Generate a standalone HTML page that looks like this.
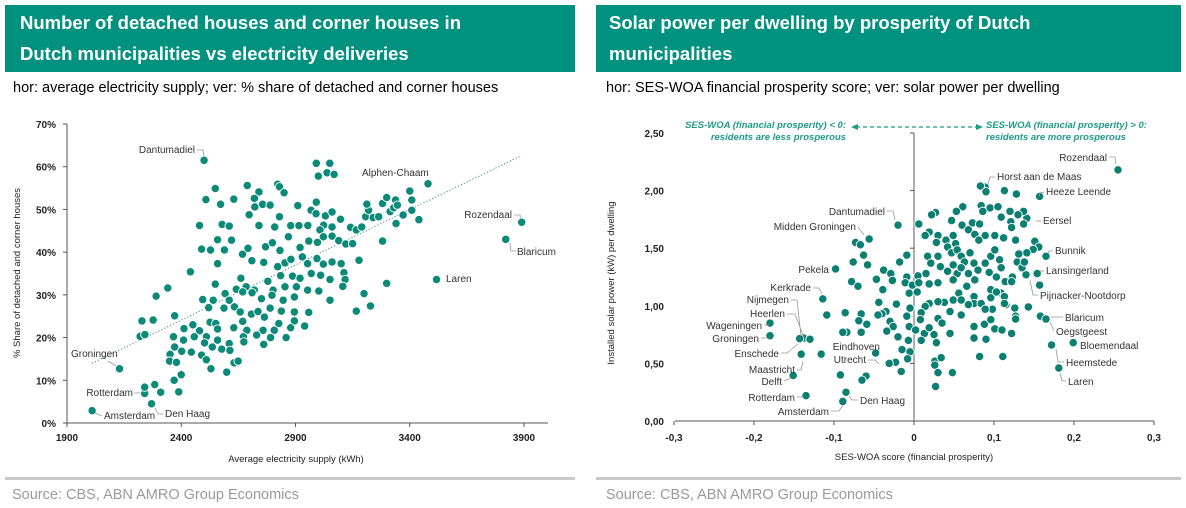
<!DOCTYPE html>
<html><head><meta charset="utf-8"><style>
html,body{margin:0;padding:0;background:#fff;}
svg{display:block;font-family:"Liberation Sans",sans-serif;}
</style></head><body>
<svg id="root" width="1186" height="508" viewBox="0 0 1186 508">
<rect x="5" y="5" width="570" height="67" fill="#00917f"/>
<text x="20" y="29" fill="#fff" font-size="18.5" font-weight="bold">Number of detached houses and corner houses in</text>
<text x="20" y="60" fill="#fff" font-size="18.5" font-weight="bold">Dutch municipalities vs electricity deliveries</text>
<text x="13" y="92" fill="#000" font-size="14.5">hor: average electricity supply; ver: % share of detached and corner houses</text>
<rect x="596" y="5" width="585" height="67" fill="#00917f"/>
<text x="609" y="29" fill="#fff" font-size="18.5" font-weight="bold">Solar power per dwelling by prosperity of Dutch</text>
<text x="609" y="60" fill="#fff" font-size="18.5" font-weight="bold">municipalities</text>
<text x="606" y="92" fill="#000" font-size="14.5">hor: SES-WOA financial prosperity score; ver: solar power per dwelling</text>
<rect x="5" y="477" width="570" height="3" fill="#c8c8c8"/>
<rect x="596" y="477" width="585" height="3" fill="#c8c8c8"/>
<text x="12" y="499" fill="#9a9a9a" font-size="14.5">Source: CBS, ABN AMRO Group Economics</text>
<text x="606" y="499" fill="#9a9a9a" font-size="14.5">Source: CBS, ABN AMRO Group Economics</text>
<g id="left"></g><g id="right"></g>
</svg>
<script>
// LEFT chart data
const leftXTicks=[1900,2400,2900,3400,3900];
const leftYTicks=[0,10,20,30,40,50,60,70];
const leftX=[2500,3480,3890,3820,3517,2130,2240,2010,2270,2991,3050,3000,3038,3069,2689,2822,2830,2549,2740,2850,2508,2630,2720,2572,2756,2789,2722,2991,2910,2697,2830,2968,2990,3031,3060,3097,2480,2579,2610,2740,2809,2879,2915,2954,3023,3007,3060,3141,3166,3190,3207,3220,3212,3240,3264,3281,3299,3314,3330,3338,3346,3371,3400,3409,3409,3440,3340,3281,2559,2620,2692,2769,2799,2832,2869,2920,2958,2996,3022,3060,3089,3120,3150,3178,2489,2528,2589,2668,2709,2761,2559,2822,2854,2880,2930,2953,2994,3022,3060,3100,3112,2835,2887,2920,2969,3010,3051,3117,3107,3299,2661,2440,2341,2290,2549,2641,2684,2720,2779,2802,2854,2904,2494,2540,2592,2610,2669,2710,2751,2797,2846,2895,2953,3002,3051,3200,2520,2587,2633,2658,2707,2736,2789,2838,2895,2958,3166,3228,2371,2228,2277,2526,2551,2669,2764,2827,2895,2940,2451,2412,2480,2559,2630,2687,2758,2807,2879,2220,2241,2366,2457,2510,2672,2730,2791,2859,2410,2502,2559,2610,2674,2761,2371,2536,2577,2613,2351,2402,2444,2489,2349,2379,2510,2631,2649,2530,2599,2400,2369,2240,2284,2310,2389];
const leftY=[61.5,56,47,43,33.6,12.7,6.9,2.9,4.5,60.8,60.8,57.8,58.6,58.2,55.6,55.9,55.3,54.9,54.1,53.9,52.3,52.4,52.6,51.2,51.2,51,50.6,51.7,50.9,48.75,48.3,49.8,49,48.5,49.4,47.7,46.25,46.5,46.1,46.25,45.9,46.2,46.2,46.25,46.3,45.2,45.9,45.8,45.2,45.9,48.3,49.8,51.25,48.1,48.3,51.4,52.8,49.5,50.4,52.2,51,48.7,54.3,52.2,49.8,47.6,46.7,42.6,42.9,42.8,40.9,41.25,42.2,40.4,43.6,41.1,42.6,42.3,43.6,43.75,42.7,41.9,42,38.1,40.7,40.5,40.5,39.5,38,37.6,37.3,36.6,37.5,38.3,38.9,37.3,38.5,37.2,37.7,37.3,35.2,34.5,34.4,33.9,35,34.6,33.6,33.6,32,32.7,33.9,35.4,31.6,29.7,32.5,31.3,31.9,31.1,33.2,31.1,31.9,31.9,28.9,28.75,30.3,28.75,30.7,30.5,29.1,29.9,28.75,29.5,31.1,30.9,28.75,30.3,27,26.9,27.2,26,25.5,26.1,26.9,26.2,26,25.9,26.2,27.4,25.1,23.9,24.1,23.6,23.3,23.8,24.8,23.3,23.9,22.7,23,22.1,21.6,22,22.3,21.7,21.7,21.7,22.3,20.3,20.7,20.2,20.2,20.2,20.2,20.6,20,20,19.4,18.75,19.4,18.6,19,18.4,17.8,17.8,17.3,17,16.1,16.8,16.6,15.9,14.5,14.2,14.8,14.1,14.5,12.7,11.9,11.3,10,8.4,9,7.2,7.3];
const leftTrendRange=[2010,3888];
// RIGHT chart data
const rightXTicks=[-0.3,-0.2,-0.1,0,0.1,0.2,0.3];
const rightXTickLabels=["-0,3","-0,2","-0,1","0","0,1","0,2","0,3"];
const rightYTicks=[0,0.5,1,1.5,2,2.5];
const rightYTickLabels=["0,00","0,50","1,00","1,50","2,00","2,50"];
const rightX=[0.255,0.089,0.157,0.141,0.165,0.154,0.14,0.158,0.165,0.199,0.172,0.181,-0.02,-0.056,-0.098,-0.114,-0.138,-0.13,-0.18,-0.18,-0.143,-0.141,-0.151,-0.135,-0.089,-0.085,-0.048,0.083,0.113,0.128,0.09,0.061,0.084,0.095,0.105,0.12,0.137,0.027,0.022,0.053,0.086,0.109,0.13,0.006,0.047,0.06,0.073,0.082,0.121,0.122,0.137,0.019,0.03,0.049,0.068,0.076,0.089,0.101,0.112,0.014,0.028,0.04,0.052,0.081,0.127,0.151,0.156,0.149,0.141,-0.073,-0.067,-0.063,-0.076,-0.058,-0.009,-0.018,-0.038,-0.029,-0.047,-0.027,-0.078,-0.07,-0.039,-0.009,0.005,0.015,-0.011,-0.002,0.006,0.019,0.03,-0.006,0.004,0.017,0.03,0.021,0.033,0.042,0.047,0.054,0.059,0.063,0.07,0.075,0.049,0.042,0.054,0.059,0.068,0.08,0.089,0.096,0.101,0.107,0.109,0.094,0.103,0.114,0.123,0.129,0.131,0.135,0.138,0.122,0.157,0.049,0.076,0.056,0.066,0.096,0.109,0.096,0.103,0.113,0.075,0.049,0.038,0.03,0.019,0.014,-0.005,-0.022,-0.044,-0.035,-0.04,-0.045,-0.066,-0.086,-0.109,0.075,0.084,0.098,0.115,0.126,0.143,0.127,0.127,0.059,0.045,0.03,0.035,0.009,0.008,-0.009,-0.03,-0.026,-0.034,-0.02,-0.006,0.002,0.013,0.019,0.025,0.028,0.009,-0.007,-0.015,-0.005,-0.008,-0.023,-0.031,-0.016,-0.069,-0.059,-0.066,-0.084,-0.089,-0.116,-0.092,-0.06,-0.065,0.026,0.034,0.026,0.03,0.048,0.027,0.045,0.075,0.088,0.101,0.11,0.075,0.09,0.122,0.082,0.111,0.059,0.068,0.089,0.096,0.113];
const rightY=[2.18,2.03,1.95,1.76,1.43,1.28,1.27,0.91,0.885,0.68,0.66,0.46,1.70,1.58,1.32,1.06,0.72,0.71,0.85,0.74,0.715,0.58,0.395,0.22,0.17,0.25,0.59,2.04,2.0,1.97,1.99,1.86,1.87,1.85,1.86,1.82,1.82,1.81,1.79,1.82,1.82,1.77,1.79,1.71,1.74,1.70,1.72,1.71,1.73,1.68,1.71,1.64,1.61,1.61,1.66,1.62,1.61,1.61,1.59,1.61,1.55,1.57,1.54,1.57,1.57,1.56,1.51,1.49,1.46,1.55,1.53,1.44,1.38,1.355,1.44,1.38,1.31,1.28,1.23,1.22,1.21,1.17,1.14,1.25,1.26,1.28,1.2,1.18,1.2,1.19,1.2,1.11,1.12,1.43,1.43,1.37,1.34,1.51,1.46,1.485,1.43,1.38,1.46,1.37,1.355,1.3,1.28,1.33,1.28,1.31,1.37,1.43,1.485,1.4,1.33,1.29,1.25,1.21,1.25,1.38,1.45,1.33,1.38,1.21,1.18,1.225,1.225,1.11,1.17,1.14,1.11,1.07,1.12,1.08,1.08,1.05,1.03,1.035,1.02,0.995,0.98,1.015,1.03,0.95,0.93,0.92,0.93,0.94,0.92,1.02,1.02,0.97,1.01,0.98,0.99,0.91,0.885,0.92,0.95,0.89,0.85,0.94,0.88,0.91,0.865,0.82,0.78,0.73,0.82,0.79,0.76,0.81,0.75,0.68,0.7,0.7,0.62,0.6,0.54,0.51,0.5,0.43,0.87,0.84,0.77,0.77,0.77,0.58,0.4,0.39,0.355,0.52,0.55,0.485,0.42,0.42,0.3,0.76,0.82,0.84,0.8,0.79,0.72,0.71,0.76,0.56,0.56,1.05,1.01,0.97,0.88,1.02];

const NS="http://www.w3.org/2000/svg";
function mk(parent,tag,attrs,txt){const e=document.createElementNS(NS,tag);for(const k in attrs)e.setAttribute(k,attrs[k]);if(txt!==undefined)e.textContent=txt;parent.appendChild(e);return e;}

// LEFT
const L=document.getElementById('left');
const lx=v=>67+(v-1900)/2000*457;
const ly=v=>423-v/70*299;
let e;
e=mk(L,'line',{x1:67,y1:124,x2:67,y2:423,stroke:'#555','stroke-width':1});


e=mk(L,'line',{x1:67,y1:423,x2:548,y2:423,stroke:'#555','stroke-width':1});


leftYTicks.forEach(t=>{
  mk(L,'line',{x1:63,y1:ly(t),x2:67,y2:ly(t),stroke:'#555'});
  e=mk(L,'text',{x:56,y:ly(t)+4,'text-anchor':'end','font-size':10,'font-weight':'bold',fill:'#222'},t+'%');
  
  
});
leftXTicks.forEach(t=>{
  mk(L,'line',{x1:lx(t),y1:423,x2:lx(t),y2:427,stroke:'#555'});
  e=mk(L,'text',{x:lx(t),y:441,'text-anchor':'middle','font-size':10,'font-weight':'bold',fill:'#222'},t);
  
  
});
e=mk(L,'text',{x:296,y:462,'text-anchor':'middle','font-size':9.5,fill:'#222'},'Average electricity supply (kWh)');


e=mk(L,'text',{x:0,y:0,'text-anchor':'middle','font-size':9.5,fill:'#222',transform:'translate(20,273) rotate(-90)'},'% Share of detached and corner houses');


// regression
(function(){let n=leftX.length,sx=0,sy=0,sxx=0,sxy=0;for(let i=0;i<n;i++){sx+=leftX[i];sy+=leftY[i];sxx+=leftX[i]*leftX[i];sxy+=leftX[i]*leftY[i];}
const b=(n*sxy-sx*sy)/(n*sxx-sx*sx),a=(sy-b*sx)/n;
e=mk(L,'line',{x1:lx(leftTrendRange[0]),y1:ly(a+b*leftTrendRange[0]),x2:lx(leftTrendRange[1]),y2:ly(a+b*leftTrendRange[1]),stroke:'#3a8a99','stroke-width':1,'stroke-dasharray':'1.2 2'});

})();
leftX.forEach((v,i)=>{
  e=mk(L,'circle',{cx:lx(v),cy:ly(leftY[i]),r:4.2,fill:'#0b8a7a',stroke:'#fff','stroke-width':0.9});
  
  
});
function lab(g,x,y,anchor,txt,lead,name){
  e=mk(g,'text',{x:x,y:y,'text-anchor':anchor,'font-size':10,fill:'#333'},txt);
  
  
  if(lead){mk(g,'polyline',{points:lead,fill:'none',stroke:'#999','stroke-width':0.8});}
}
lab(L,195,153,'end','Dantumadiel','197,150 203,150 204,156','label-dantumadiel');
lab(L,362,176,'start','Alphen-Chaam',null,'label-alphen-chaam');
lab(L,512,218,'end','Rozendaal','514,215 520,215 521,218','label-rozendaal');
lab(L,517,255,'start','Blaricum','510,243 511,251 516,251','label-blaricum');
lab(L,446,282,'start','Laren',null,'label-laren');
lab(L,71,357,'start','Groningen','108,361 116,366','label-groningen');
lab(L,133,396,'end','Rotterdam','134,393 140,393','label-rotterdam');
lab(L,104,419,'start','Amsterdam','95,413 102,416','label-amsterdam');
lab(L,165,417,'start','Den Haag','155,408 158,414 163,414','label-den-haag');

// RIGHT
const R=document.getElementById('right');
const rx=v=>914+v/0.3*240;
const ry=v=>421-v/2.5*288;
e=mk(R,'line',{x1:675,y1:421,x2:1154,y2:421,stroke:'#555'});


e=mk(R,'line',{x1:914,y1:133,x2:914,y2:421,stroke:'#777','stroke-width':1.2});


rightXTicks.forEach((t,i)=>{
  mk(R,'line',{x1:rx(t),y1:421,x2:rx(t),y2:425,stroke:'#555'});
  e=mk(R,'text',{x:rx(t),y:441,'text-anchor':'middle','font-size':10,'font-weight':'bold',fill:'#222'},rightXTickLabels[i]);
  
  
});
rightYTicks.forEach((t,i)=>{
  mk(R,'line',{x1:910,y1:ry(t),x2:914,y2:ry(t),stroke:'#555'});
  e=mk(R,'text',{x:664,y:ry(t)+4,'text-anchor':'end','font-size':10,'font-weight':'bold',fill:'#222'},rightYTickLabels[i]);
  
  
});
e=mk(R,'text',{x:914,y:460,'text-anchor':'middle','font-size':9.5,fill:'#222'},'SES-WOA score (financial prosperity)');


e=mk(R,'text',{x:0,y:0,'text-anchor':'middle','font-size':9.5,fill:'#222',transform:'translate(614,283) rotate(-90)'},'Installed solar power (kW) per dwelling');


// annotations
e=mk(R,'text',{x:846,y:128,'text-anchor':'end','font-size':9.5,'font-weight':'bold','font-style':'italic',fill:'#1f9a88'},'SES-WOA (financial prosperity) < 0:');


e=mk(R,'text',{x:846,y:140,'text-anchor':'end','font-size':9.5,'font-weight':'bold','font-style':'italic',fill:'#1f9a88'},'residents are less prosperous');


e=mk(R,'text',{x:986,y:128,'text-anchor':'start','font-size':9.5,'font-weight':'bold','font-style':'italic',fill:'#1f9a88'},'SES-WOA (financial prosperity) > 0:');


e=mk(R,'text',{x:986,y:140,'text-anchor':'start','font-size':9.5,'font-weight':'bold','font-style':'italic',fill:'#1f9a88'},'residents are more prosperous');


e=mk(R,'line',{x1:856,y1:127,x2:978,y2:127,stroke:'#1f9a88','stroke-width':1.3,'stroke-dasharray':'4 3'});


mk(R,'polygon',{points:'851,127 858,124 858,130',fill:'#1f9a88'});
mk(R,'polygon',{points:'983,127 976,124 976,130',fill:'#1f9a88'});
rightX.forEach((v,i)=>{
  e=mk(R,'circle',{cx:rx(v),cy:ry(rightY[i]),r:4.2,fill:'#0b7f72',stroke:'#fff','stroke-width':0.9});
  
  
});
const RL=[
[1107,161,'end','Rozendaal','1109,157 1115,157 1116,164'],
[997,180,'start','Horst aan de Maas','995,177 990,177 988,184'],
[1046,195,'start','Heeze Leende','1044,192 1040,193 1039,196'],
[1043,224,'start','Eersel','1041,221 1036,221'],
[1055,254,'start','Bunnik','1053,251 1049,251 1048,254'],
[1046,274,'start','Lansingerland','1044,271 1040,271'],
[1040,299,'start','Pijnacker-Nootdorp','1038,295 1033,295 1030,280'],
[1065,321,'start','Blaricum','1063,317 1051,317'],
[1056,335,'start','Oegstgeest','1054,331 1050,322'],
[1080,349,'start','Bloemendaal',null],
[1066,366,'start','Heemstede','1064,362 1058,362 1056,349'],
[1068,385,'start','Laren','1066,381 1062,381 1060,373'],
[885,215,'end','Dantumadiel','887,211 893,211 895,220'],
[856,230,'end','Midden Groningen','858,227 864,235'],
[829,273,'end','Pekela',null],
[811,291,'end','Kerkrade','813,288 819,288 822,294'],
[789,303,'end','Nijmegen','791,300 797,300 801,336'],
[785,317,'end','Heerlen','787,314 795,314 804,338'],
[762,329,'end','Wageningen','764,325 769,325'],
[759,342,'end','Groningen','761,338 769,338'],
[779,357,'end','Enschede','781,353 787,353 798,344'],
[880,350,'end','Eindhoven',null],
[866,363,'end','Utrecht','868,360 875,360 879,364'],
[795,373,'end','Maastricht','797,370 801,370 803,361'],
[782,385,'end','Delft','784,381 791,378'],
[795,401,'end','Rotterdam','797,397 804,397'],
[829,415,'end','Amsterdam','831,411 839,411 843,405'],
[860,404,'start','Den Haag','858,400 852,400 849,396']
];
RL.forEach(r=>lab(R,r[0],r[1],r[2],r[3],r[4],'label-'+r[3].toLowerCase().replace(/ /g,'-')));
</script>
</body></html>
